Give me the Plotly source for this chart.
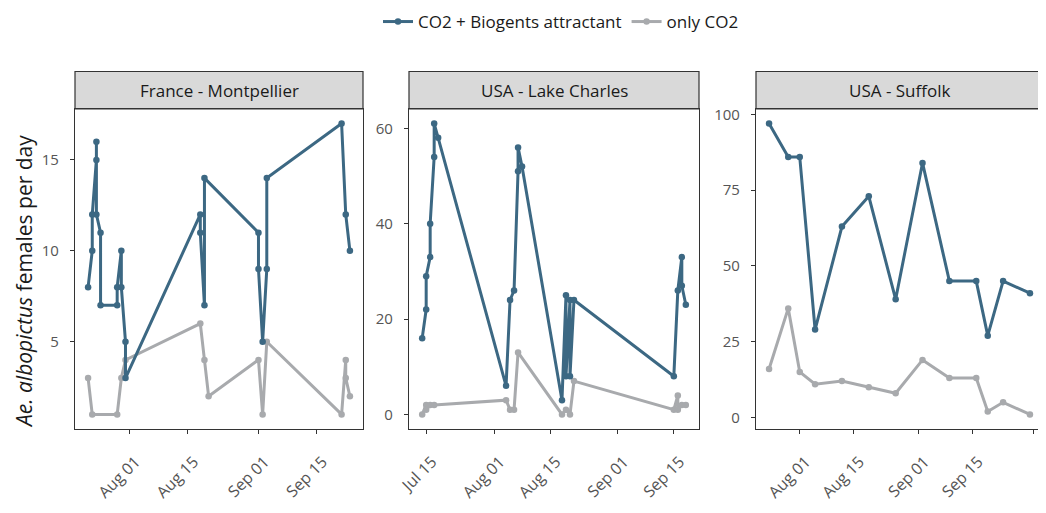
import plotly.graph_objects as go
import pandas as pd

# ---------------- data ----------------
# France - Montpellier
france_bio_dates = ["2019-07-22", "2019-07-23", "2019-07-23", "2019-07-24", "2019-07-24", "2019-07-24",
                    "2019-07-25", "2019-07-25", "2019-07-29", "2019-07-29", "2019-07-30", "2019-07-30",
                    "2019-07-31", "2019-07-31", "2019-08-18", "2019-08-18", "2019-08-19", "2019-08-19",
                    "2019-09-01", "2019-09-01", "2019-09-02", "2019-09-03", "2019-09-03",
                    "2019-09-21", "2019-09-22", "2019-09-23"]
france_bio = [8, 10, 12, 15, 16, 12,
              11, 7, 7, 8, 10, 8,
              5, 3, 12, 11, 7, 14,
              11, 9, 5, 9, 14,
              17, 12, 10]
france_co2_dates = ["2019-07-22", "2019-07-23", "2019-07-29", "2019-07-30", "2019-07-31",
                    "2019-08-18", "2019-08-19", "2019-08-20", "2019-09-01", "2019-09-02", "2019-09-03",
                    "2019-09-21", "2019-09-22", "2019-09-22", "2019-09-23"]
france_co2 = [3, 1, 1, 3, 4,
              6, 4, 2, 4, 1, 5,
              1, 4, 3, 2]

# USA - Lake Charles
lake_bio_dates = ["2019-07-14", "2019-07-15", "2019-07-15", "2019-07-16", "2019-07-16", "2019-07-17", "2019-07-17",
                  "2019-07-18", "2019-08-04", "2019-08-05", "2019-08-06", "2019-08-07", "2019-08-07", "2019-08-08",
                  "2019-08-18", "2019-08-19", "2019-08-19", "2019-08-20", "2019-08-20", "2019-08-21",
                  "2019-09-15", "2019-09-16", "2019-09-17", "2019-09-17", "2019-09-18"]
lake_bio = [16, 22, 29, 33, 40, 54, 61,
            58, 6, 24, 26, 51, 56, 52,
            3, 25, 8, 24, 8, 24,
            8, 26, 33, 27, 23]
lake_co2_dates = ["2019-07-14", "2019-07-15", "2019-07-15", "2019-07-16", "2019-07-17",
                  "2019-08-04", "2019-08-05", "2019-08-06", "2019-08-07",
                  "2019-08-18", "2019-08-19", "2019-08-20", "2019-08-21",
                  "2019-09-15", "2019-09-16", "2019-09-16", "2019-09-17", "2019-09-18"]
lake_co2 = [0, 2, 1, 2, 2,
            3, 1, 1, 13,
            0, 1, 0, 7,
            1, 4, 1, 2, 2]

# USA - Suffolk
suffolk_dates = ["2019-07-24", "2019-07-29", "2019-08-01", "2019-08-05", "2019-08-12", "2019-08-19",
                 "2019-08-26", "2019-09-02", "2019-09-09", "2019-09-16", "2019-09-19", "2019-09-23",
                 "2019-09-30"]
suffolk_bio = [97, 86, 86, 29, 63, 73, 39, 84, 45, 45, 27, 45, 41]
suffolk_co2 = [16, 36, 15, 11, 12, 10, 8, 19, 13, 13, 2, 5, 1]

panel_names = ["France - Montpellier", "USA - Lake Charles", "USA - Suffolk"]
series_names = ["CO2 + Biogents attractant", "only CO2"]

france_tickdates = ["2019-08-01", "2019-08-15", "2019-09-01", "2019-09-15"]
france_ticktext = ["Aug 01", "Aug 15", "Sep 01", "Sep 15"]
lake_tickdates = ["2019-07-15", "2019-08-01", "2019-08-15", "2019-09-01", "2019-09-15"]
lake_ticktext = ["Jul 15", "Aug 01", "Aug 15", "Sep 01", "Sep 15"]
suffolk_tickdates = ["2019-08-01", "2019-08-15", "2019-09-01", "2019-09-15", "2019-10-01"]
suffolk_ticktext = ["Aug 01", "Aug 15", "Sep 01", "Sep 15", "Okt 01"]

france_yticks = [5, 10, 15]
lake_yticks = [0, 20, 40, 60]
suffolk_yticks = [0, 25, 50, 75, 100]

# ---------------- styling ----------------
OFF = 8                      # default body margin of the html page
W, H = 1046 - OFF, 513 - OFF
BLUE = "#3c6883"
GREY = "#a8aaad"
AXIS = "#333333"
TICKTXT = "#555555"
FONT = "Open Sans"

panels = [
    dict(name=panel_names[0], px=(75, 363),
         bio=(france_bio_dates, france_bio), co2=(france_co2_dates, france_co2),
         tv=france_tickdates, tt=france_ticktext, yt=france_yticks),
    dict(name=panel_names[1], px=(409, 699),
         bio=(lake_bio_dates, lake_bio), co2=(lake_co2_dates, lake_co2),
         tv=lake_tickdates, tt=lake_ticktext, yt=lake_yticks),
    dict(name=panel_names[2], px=(756, 1043),
         bio=(suffolk_dates, suffolk_bio), co2=(suffolk_dates, suffolk_co2),
         tv=suffolk_tickdates, tt=suffolk_ticktext, yt=suffolk_yticks),
]

PLOT_TOP, PLOT_BOT, STRIP_TOP = 109, 429, 71.5


def fx(px):
    return (px - OFF) / W


def fy(py):
    return 1 - (py - OFF) / H


fig = go.Figure()
shapes = []
annotations = []

for i, p in enumerate(panels):
    k = "" if i == 0 else str(i + 1)
    xa, ya = "x" + k, "y" + k
    for j, (ser, col) in enumerate([(p["co2"], GREY), (p["bio"], BLUE)]):
        d, v = ser
        fig.add_trace(go.Scatter(
            x=pd.to_datetime(d), y=v, mode="lines+markers",
            line=dict(color=col, width=3), marker=dict(color=col, size=6.5),
            name=series_names[1 - j], legendgroup=series_names[1 - j],
            showlegend=(i == 0), xaxis=xa, yaxis=ya,
            legendrank=1 if j == 1 else 2,
        ))
    # ranges with 5% expansion as in ggplot
    alld = pd.to_datetime(p["bio"][0] + p["co2"][0])
    dmin, dmax = alld.min(), alld.max()
    dpad = (dmax - dmin) * 0.05
    allv = list(p["bio"][1]) + list(p["co2"][1])
    vmin, vmax = min(allv), max(allv)
    vpad = (vmax - vmin) * 0.05
    x0, x1 = p["px"]
    fig.layout["xaxis" + k] = dict(
        domain=[fx(x0), min(fx(x1), 1)], anchor=ya, range=[dmin - dpad, dmax + dpad],
        tickvals=pd.to_datetime(p["tv"]), ticktext=p["tt"], tickangle=-45,
        showgrid=False, zeroline=False, showline=True, mirror=True,
        linecolor=AXIS, linewidth=1.2, ticks="outside", ticklen=4, tickcolor=AXIS,
        tickfont=dict(family=FONT, size=16, color=TICKTXT),
        ticklabelstandoff=12, ticklabelshift=6,
    )
    fig.layout["yaxis" + k] = dict(
        domain=[fy(PLOT_BOT), fy(PLOT_TOP)], anchor=xa, range=[vmin - vpad, vmax + vpad],
        tickvals=p["yt"], showgrid=False, zeroline=False, showline=True, mirror=True,
        linecolor=AXIS, linewidth=1.2, ticks="outside", ticklen=4, tickcolor=AXIS,
        tickfont=dict(family=FONT, size=15, color=TICKTXT),
        ticklabelstandoff=8,
    )
    shapes.append(dict(type="rect", xref="paper", yref="paper",
                       x0=fx(x0), x1=fx(x1), y0=fy(PLOT_TOP), y1=fy(STRIP_TOP),
                       fillcolor="#d9d9d9", line=dict(color=AXIS, width=1.2), layer="below"))
    annotations.append(dict(text=p["name"], xref="paper", yref="paper",
                            x=fx((x0 + x1) / 2), y=fy((PLOT_TOP + STRIP_TOP) / 2),
                            showarrow=False, xanchor="center", yanchor="middle",
                            font=dict(family=FONT, size=17, color="#1a1a1a")))

annotations.append(dict(text="<i>Ae. albopictus</i> females per day", xref="paper", yref="paper",
                        x=fx(24), y=fy(282), textangle=-90, showarrow=False,
                        xanchor="center", yanchor="middle", borderpad=0,
                        font=dict(family=FONT, size=21, color="#1a1a1a")))

fig.update_layout(
    width=W, height=H, margin=dict(l=0, r=0, t=0, b=0, autoexpand=False),
    paper_bgcolor="white", plot_bgcolor="white",
    shapes=shapes, annotations=annotations,
    showlegend=True,
    legend=dict(orientation="h", x=fx(561), y=fy(22), xanchor="center", yanchor="middle",
                font=dict(family=FONT, size=17, color="#1a1a1a"), traceorder="normal",
                itemwidth=30, bgcolor="rgba(0,0,0,0)"),
    font=dict(family=FONT),
)

fig.write_html("out.html")
